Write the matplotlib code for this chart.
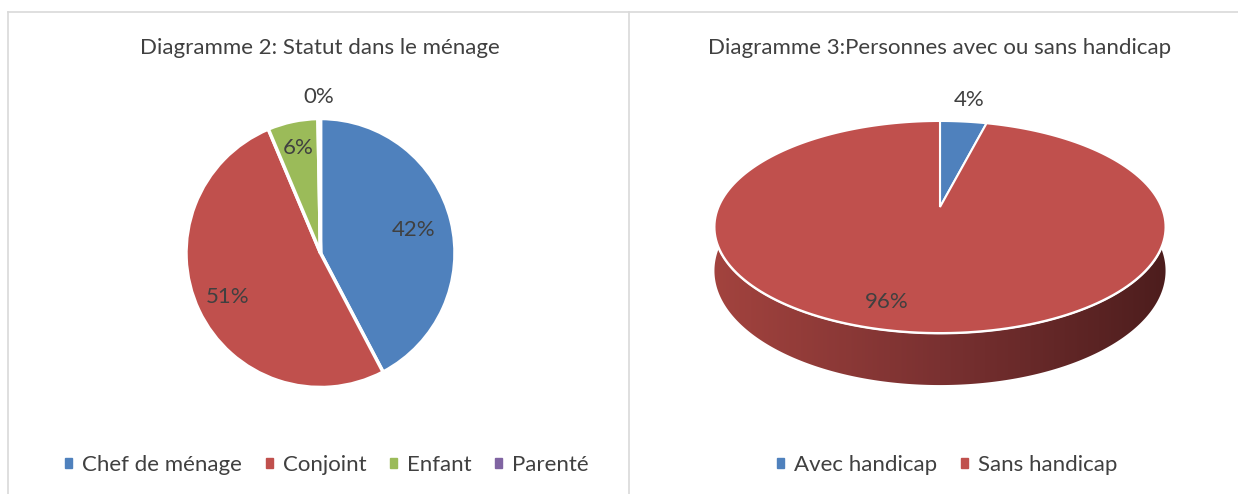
import numpy as np
import matplotlib.pyplot as plt
from matplotlib.patches import Patch, Polygon
from matplotlib.colors import LinearSegmentedColormap

plt.rcParams['font.family'] = ['Lato', 'DejaVu Sans']

W, H = 1238, 494

# données
statut_labels = ['Chef de ménage', 'Conjoint', 'Enfant', 'Parenté']
statut_values = [42, 51, 6, 0.3]
statut_pct = ['42%', '51%', '6%', '0%']
statut_colors = ['#4F81BD', '#C0504D', '#9BBB59', '#8064A2']

handicap_labels = ['Avec handicap', 'Sans handicap']
handicap_values = [4, 96]
handicap_pct = ['4%', '96%']
handicap_colors = ['#4F81BD', '#C0504D']

txt_col = '#404040'
fs = 16

fig = plt.figure(figsize=(W / 100, H / 100), dpi=100)
ax = fig.add_axes([0, 0, 1, 1])
ax.set_xlim(0, W)
ax.set_ylim(0, H)
ax.axis('off')

def Y(py):  # pixel y (haut -> bas) vers coordonnée data
    return H - py

# cadres gris
ax.plot([8, W], [Y(12), Y(12)], color='#D9D9D9', lw=1.2)
ax.plot([8, 8], [Y(12), 0], color='#D9D9D9', lw=1.2)
ax.plot([629, 629], [Y(12), 0], color='#D9D9D9', lw=1.2)

## Diagramme 2 : camembert simple
cx1, cy1, r1 = 320.5, Y(253), 134.5
ax.pie(statut_values, colors=statut_colors, startangle=90, counterclock=False,
       center=(cx1, cy1), radius=r1, frame=True,
       wedgeprops=dict(edgecolor='white', linewidth=2.5))
ax.set_xlim(0, W)
ax.set_ylim(0, H)
ax.axis('off')

fracs = np.array(statut_values) / sum(statut_values)
cum = np.concatenate([[0], np.cumsum(fracs)])
lab_dist = [0.71, 0.76, 0.80, 1.16]
for i, t in enumerate(statut_pct):
    mid = np.radians(90 - 360 * (cum[i] + cum[i + 1]) / 2)
    ax.text(cx1 + lab_dist[i] * r1 * np.cos(mid), cy1 + lab_dist[i] * r1 * np.sin(mid), t,
            ha='center', va='center', fontsize=fs, color=txt_col)

ax.text(320, Y(48), 'Diagramme 2: Statut dans le ménage', ha='center', va='center',
        fontsize=fs, color=txt_col)

## Diagramme 3 : camembert 3D (perspective)
cx2, a2 = 940.0, 221.5
B0, B1, k, D = 207.0, -63.2, 0.1887, 42.2

def proj(theta, r=1.0, drop=0.0):
    x3 = r * np.sin(theta)
    z = r * np.cos(theta)
    w = 1 + k * z
    return cx2 + a2 * x3 / w, Y((B0 + B1 * z + drop) / w)

# flanc avec dégradé
th = np.radians(np.linspace(60, 300, 300))
tx, ty = proj(th)
bx, by = proj(th[::-1], drop=D)
side = Polygon(np.column_stack([np.r_[tx, bx], np.r_[ty, by]]), closed=True,
               facecolor='none', edgecolor='none')
ax.add_patch(side)
cmap = LinearSegmentedColormap.from_list('flanc', ['#A5443F', '#7A3131', '#4A1C1C'])
grad = np.linspace(0, 1, 256).reshape(1, -1)
im = ax.imshow(grad, cmap=cmap, extent=[700, 1180, Y(400), Y(200)], aspect='auto', zorder=2)
im.set_clip_path(side)
ax.set_xlim(0, W)
ax.set_ylim(0, H)

# bord blanc entre dessus et flanc
th2 = np.radians(np.linspace(80, 280, 200))
ex, ey = proj(th2)
ax.plot(ex, ey, color='white', lw=2, zorder=3)

# dessus
fr2 = np.array(handicap_values) / sum(handicap_values)
cum2 = np.concatenate([[0], np.cumsum(fr2)])
for i in range(len(handicap_values)):
    tt = np.radians(np.linspace(360 * cum2[i], 360 * cum2[i + 1], 200))
    px, py = proj(tt)
    ox, oy = proj(0.0, r=0.0)
    ax.add_patch(Polygon(np.column_stack([np.r_[ox, px], np.r_[oy, py]]), closed=True,
                         facecolor=handicap_colors[i], edgecolor='white', lw=1.5, zorder=4))

lab_r = [1.31, 0.80]
lab_dx = [0, -27]
for i, t in enumerate(handicap_pct):
    mid = np.radians(360 * (cum2[i] + cum2[i + 1]) / 2)
    lx, ly = proj(mid, r=lab_r[i])
    ax.text(lx + lab_dx[i], ly, t, ha='center', va='center', fontsize=fs, color=txt_col, zorder=5)

ax.text(940, Y(48), 'Diagramme 3:Personnes avec ou sans handicap', ha='center', va='center',
        fontsize=fs, color=txt_col)

## légendes
h1 = [Patch(color=c, label=l) for c, l in zip(statut_colors, statut_labels)]
h2 = [Patch(color=c, label=l) for c, l in zip(handicap_colors, handicap_labels)]
for hs, xc in [(h1, 327), (h2, 947)]:
    fig.legend(handles=hs, loc='center', bbox_to_anchor=(xc / W, 1 - 465 / H), ncol=len(hs),
               frameon=False, fontsize=fs, handlelength=0.33, handleheight=0.33,
               handletextpad=0.45, columnspacing=1.05, labelcolor=txt_col)

plt.savefig('out.png', dpi=100)
